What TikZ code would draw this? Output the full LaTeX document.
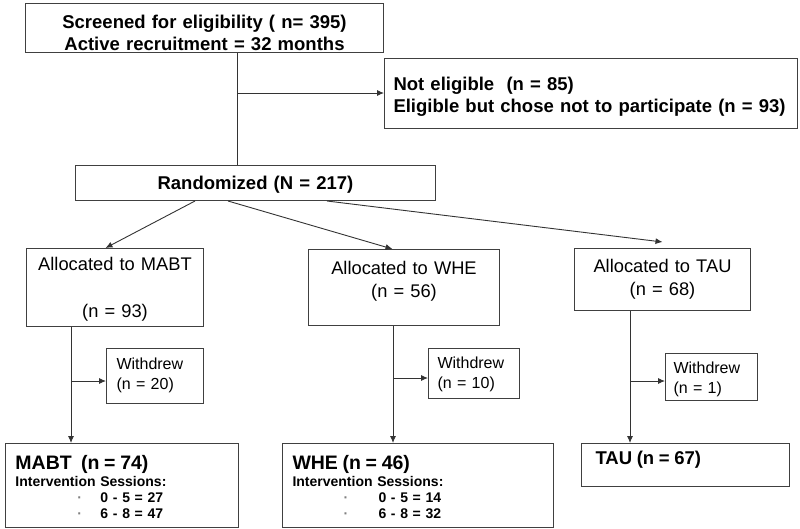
\documentclass[tikz,border=0pt]{standalone}
\usepackage{fontspec}
\setmainfont{Liberation Sans}
\usetikzlibrary{arrows.meta}
\tikzset{flowbox/.style={draw=black!75,line width=1pt,anchor=north west,inner ysep=0pt},
         headtext/.style={font=\bfseries\fontsize{18.5}{22}\selectfont},
         alloctext/.style={font=\fontsize{18.3}{23}\selectfont,align=center},
         wdtext/.style={font=\fontsize{16}{20}\selectfont,align=left},
         finaltext/.style={font=\bfseries\fontsize{14}{16}\selectfont,align=left,inner xsep=10pt},
         link/.style={draw=black!80,line width=0.9pt},
         >={Latex[length=7pt,width=6pt]},
        }

\begin{document}
\begin{tikzpicture}[x=1pt,y=-1pt]
        \useasboundingbox(0,0)rectangle(800,528);
        \node[flowbox,headtext,align=center,inner xsep=0pt,text width=358pt,text height=24.5pt,text depth=24.5pt](scr)at(25,3){Screened for eligibility ( n= 395)\\Active recruitment = 32 months};
        \node[flowbox,headtext,align=left,inner xsep=9pt,text width=395pt,text height=31.6pt,text depth=38.4pt](excl)at(384,58){Not eligible\ \ (n = 85)\\Eligible but chose not to participate (n = 93)};
        \node[flowbox,headtext,align=center,inner xsep=0pt,text width=360pt,text height=23.6pt,text depth=11.4pt](rand)at(75,165){Randomized (N = 217)};

        \coordinate(split)at(237,93);
        \draw[link](scr.south -| split)--(rand.north -| split);
        \draw[link,->](split)--(excl.west |- split);

        \node[flowbox,alloctext,inner xsep=0pt,text width=177pt,text height=21.5pt,text depth=56.5pt](alma)at(26,248){Allocated to MABT\\[24pt](n = 93)};
        \node[flowbox,alloctext,inner xsep=0pt,text width=191pt,text height=24.5pt,text depth=51.5pt](alwhe)at(308,249){Allocated to WHE\\(n = 56)};
        \node[flowbox,alloctext,inner xsep=0pt,text width=176pt,text height=23.5pt,text depth=38.5pt](altau)at(574,248){Allocated to TAU\\(n = 68)};

        \draw[link,->]([xshift=120pt]rand.south west)--([xshift=-9.5pt]alma.north);
        \draw[link,->]([xshift=153pt]rand.south west)--([xshift=-11.5pt]alwhe.north);
        \draw[link,->]([xshift=252pt]rand.south west)--([yshift=6pt]altau.north);

        \node[flowbox,wdtext,inner xsep=10pt,text width=77pt,text height=20.7pt,text depth=34.3pt](wdma)at(106,348){Withdrew\\(n = 20)};
        \node[flowbox,wdtext,inner xsep=9pt,text width=73pt,text height=19.7pt,text depth=30.3pt](wdwhe)at(428,348){Withdrew\\(n = 10)};
        \node[flowbox,wdtext,inner xsep=8pt,text width=76pt,text height=19.7pt,text depth=27.3pt](wdtau)at(665,353){Withdrew\\(n = 1)};

        \node[flowbox,finaltext,text width=213pt,text height=26pt,text depth=58pt](fma)at(5,443){{\fontsize{19.5}{20}\selectfont MABT\ \ (n = 74)}\\[1pt]
            Intervention Sessions:\\
            \hspace*{62pt}\makebox[23pt][l]{\textcolor{black!50}{·}}0 - 5 = 27\\
            \hspace*{62pt}\makebox[23pt][l]{\textcolor{black!50}{·}}6 - 8 = 47};
        \node[flowbox,finaltext,text width=251pt,text height=26pt,text depth=58pt](fwhe)at(282,443){{\fontsize{19.5}{20}\selectfont WHE (n = 46)}\\[1pt]
            Intervention Sessions:\\
            \hspace*{51pt}\makebox[35pt][l]{\textcolor{black!50}{·}}0 - 5 = 14\\
            \hspace*{51pt}\makebox[35pt][l]{\textcolor{black!50}{·}}6 - 8 = 32};
        \node[flowbox,finaltext,inner xsep=14pt,text width=180pt,text height=21pt,text depth=22pt](ftau)at(581,443){{\fontsize{18.5}{20}\selectfont TAU (n = 67)}};

        % drop-out branches
        \coordinate(bma)at(71,381);
        \coordinate(bwhe)at(393,378);
        \coordinate(btau)at(630,381);
        \draw[link,->](alma.south -| bma)--(fma.north -| bma);
        \draw[link,->](bma)--(wdma.west |- bma);
        \draw[link,->](alwhe.south -| bwhe)--(fwhe.north -| bwhe);
        \draw[link,->](bwhe)--(wdwhe.west |- bwhe);
        \draw[link,->](altau.south -| btau)--(ftau.north -| btau);
        \draw[link,->](btau)--(wdtau.west |- btau);
    \end{tikzpicture}
\end{document}
